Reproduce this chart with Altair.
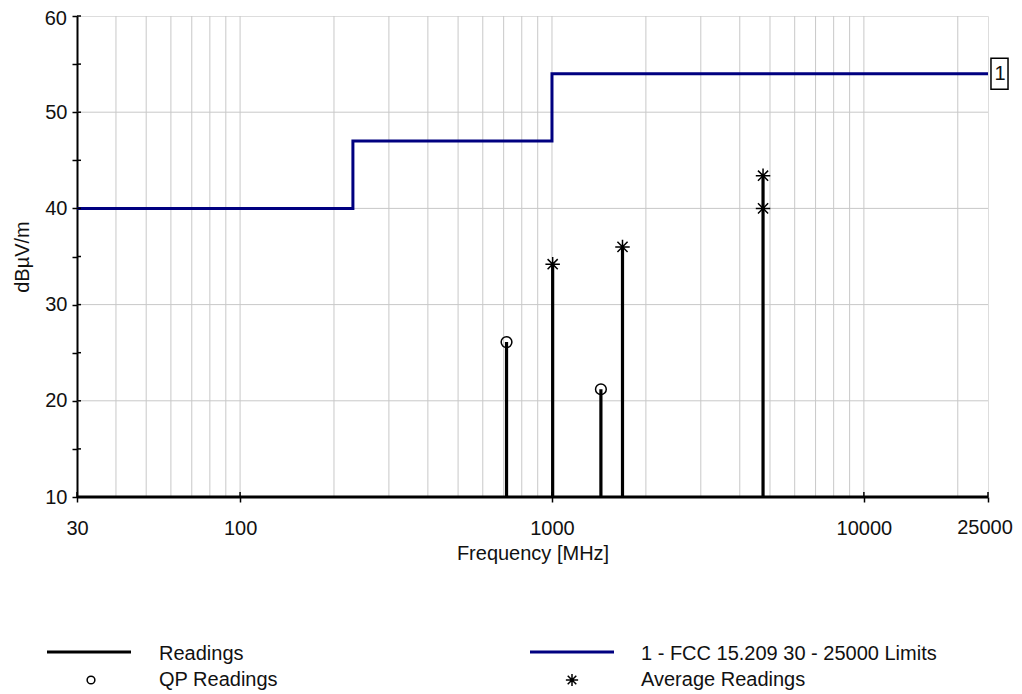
import altair as alt
import pandas as pd

# ---- data ----
limit_freq = [30, 230, 230, 1000, 1000, 25000]
limit_level = [40, 40, 47, 47, 54, 54]

peak_freq = [715, 1005, 1435, 1683, 4750]
peak_level = [26.1, 34.2, 21.2, 36.0, 43.4]
floor_level = 10

qp_freq = [715, 1435]
qp_level = [26.1, 21.2]

avg_freq = [1005, 1683, 4750, 4750]
avg_level = [34.2, 36.0, 43.4, 40.0]

x_tick_values = [30, 100, 1000, 10000, 25000]
x_grid = [40, 50, 60, 70, 80, 90,
          100, 200, 300, 400, 500, 600, 700, 800, 900,
          1000, 2000, 3000, 4000, 5000, 6000, 7000, 8000, 9000,
          10000, 20000]
y_tick_values = [10, 15, 20, 25, 30, 35, 40, 45, 50, 55, 60]
y_grid = [20, 30, 40, 50]

FONT = "Liberation Sans"
FS = 20

# ---- tables ----
limit_df = pd.DataFrame({"f": limit_freq, "v": limit_level, "i": range(len(limit_freq))})

trace_f, trace_v = [30], [floor_level]
for f, v in zip(peak_freq, peak_level):
    trace_f += [f, f, f]
    trace_v += [floor_level, v, floor_level]
trace_f.append(25000)
trace_v.append(floor_level)
trace_df = pd.DataFrame({"f": trace_f, "v": trace_v, "i": range(len(trace_f))})

qp_df = pd.DataFrame({"f": qp_freq, "v": qp_level})
avg_df = pd.DataFrame({"f": avg_freq, "v": avg_level})
xgrid_df = pd.DataFrame({"f": x_grid})
ygrid_df = pd.DataFrame({"v": y_grid})
ytick_df = pd.DataFrame({"v": y_tick_values})
xtick_df = pd.DataFrame({"f": x_tick_values})
one = pd.DataFrame({"a": [0]})

x_axis = alt.Axis(values=x_tick_values, format="d", title="Frequency [MHz]", grid=False,
                  labelExpr="datum.value == 25000 ? '' : datum.label",
                  tickSize=5, tickColor="black", tickWidth=1.5, domainColor="black",
                  labelFontSize=FS, labelFont=FONT, labelColor="#111111", labelPadding=16,
                  labelOverlap=False, labelFlush=False,
                  titleFontSize=FS, titleFont=FONT, titleFontWeight="normal", titleColor="#111111",
                  titleX=455.5, titleY=56, titleBaseline="middle")
y_axis = alt.Axis(values=y_tick_values,
                  labelExpr="(datum.value % 10 == 0 && datum.value != 60) ? datum.value : ''",
                  title="dBµV/m", grid=False, tickSize=5, tickColor="black", tickWidth=1.5,
                  domainColor="black", domainWidth=2,
                  labelFontSize=FS, labelFont=FONT, labelColor="#111111", labelPadding=5,
                  labelOverlap=False,
                  titleFontSize=FS, titleFont=FONT, titleFontWeight="normal", titleColor="#111111",
                  titleX=-55, titleY=240.5, titleBaseline="middle", titleAngle=270)

xs = alt.Scale(type="log", domain=[30, 25000], nice=False)
ys = alt.Scale(domain=[10, 60], nice=False, zero=False)
X = alt.X("f:Q", scale=xs, axis=x_axis)
Y = alt.Y("v:Q", scale=ys, axis=y_axis)

grid_v = alt.Chart(xgrid_df).mark_rule(color="#c8c8c8", strokeWidth=1).encode(x=X)
grid_h = alt.Chart(ygrid_df).mark_rule(color="#c8c8c8", strokeWidth=1).encode(y=Y)

y_inner = alt.Chart(ytick_df).mark_rule(color="black", strokeWidth=1.5).encode(
    y=Y, x=alt.value(0), x2=alt.value(4))
x_inner = alt.Chart(xtick_df).mark_rule(color="black", strokeWidth=1.5).encode(
    x=X, y=alt.value(476), y2=alt.value(481))

limit = alt.Chart(limit_df).mark_line(color="#000080", strokeWidth=3).encode(
    x=X, y=Y, order="i:Q")
trace = alt.Chart(trace_df).mark_line(color="black", strokeWidth=3.2).encode(
    x=X, y=Y, order="i:Q")

qp = alt.Chart(qp_df).mark_point(shape="circle", size=115, filled=False,
                                 color="black", strokeWidth=1.5, opacity=1).encode(x=X, y=Y)
STAR = "M-1,0L1,0M0,-1L0,1M-0.7,-0.7L0.7,0.7M-0.7,0.7L0.7,-0.7"
avg = alt.Chart(avg_df).mark_point(shape=STAR, size=210, filled=False,
                                   color="black", strokeWidth=1.5, opacity=1).encode(x=X, y=Y)

# end tick labels, nudged so they stay inside the page
last_lbl = alt.Chart(one).mark_text(text="25000", font=FONT, fontSize=FS, color="#111111",
                                    align="center", baseline="top", dx=-3).encode(
    x=alt.datum(25000), y=alt.value(502))
top_lbl = alt.Chart(one).mark_text(text="60", font=FONT, fontSize=FS, color="#111111",
                                   align="right", baseline="middle", dy=3).encode(
    x=alt.value(-10), y=alt.datum(60))

# limit label box "1"
BOX = "M-0.55,-1L0.55,-1L0.55,1L-0.55,1Z"
box = alt.Chart(one).mark_point(shape=BOX, size=961, filled=False, color="black",
                                strokeWidth=1.5, opacity=1).encode(
    x=alt.value(922.5), y=alt.datum(54))
box_txt = alt.Chart(one).mark_text(text="1", font=FONT, fontSize=FS, color="#111111",
                                   align="center", baseline="middle").encode(
    x=alt.value(923), y=alt.datum(54))

# legend
def leg_line(x1, x2, y, color):
    return alt.Chart(one).mark_rule(color=color, strokeWidth=3).encode(
        x=alt.value(x1), x2=alt.value(x2), y=alt.value(y))

def leg_text(x, y, t):
    return alt.Chart(one).mark_text(text=t, font=FONT, fontSize=FS, color="#111111",
                                    align="left", baseline="middle").encode(
        x=alt.value(x), y=alt.value(y))

leg = [
    leg_line(-30, 54, 636, "black"),
    leg_text(82, 638, "Readings"),
    alt.Chart(one).mark_point(shape="circle", size=60, filled=False, color="black",
                              strokeWidth=1.5, opacity=1).encode(x=alt.value(14), y=alt.value(664)),
    leg_text(82, 664, "QP Readings"),
    leg_line(453, 537, 636, "#000080"),
    leg_text(564, 638, "1 - FCC 15.209 30 - 25000 Limits"),
    alt.Chart(one).mark_point(shape=STAR, size=150, filled=False, color="black",
                              strokeWidth=1.5, opacity=1).encode(x=alt.value(495), y=alt.value(664)),
    leg_text(564, 664, "Average Readings"),
]

chart = alt.layer(grid_v, grid_h, limit, trace, qp, avg, y_inner, x_inner, last_lbl, top_lbl,
                  box, box_txt, *leg).properties(
    width=911, height=481,
    autosize=alt.AutoSizeParams(type="none"),
    padding={"left": 69, "top": 8, "right": 26, "bottom": 196},
).configure_view(stroke="#333333", strokeWidth=1.2).configure(background="white")

chart.save("out.html", embed_options={"renderer": "svg", "actions": False})
